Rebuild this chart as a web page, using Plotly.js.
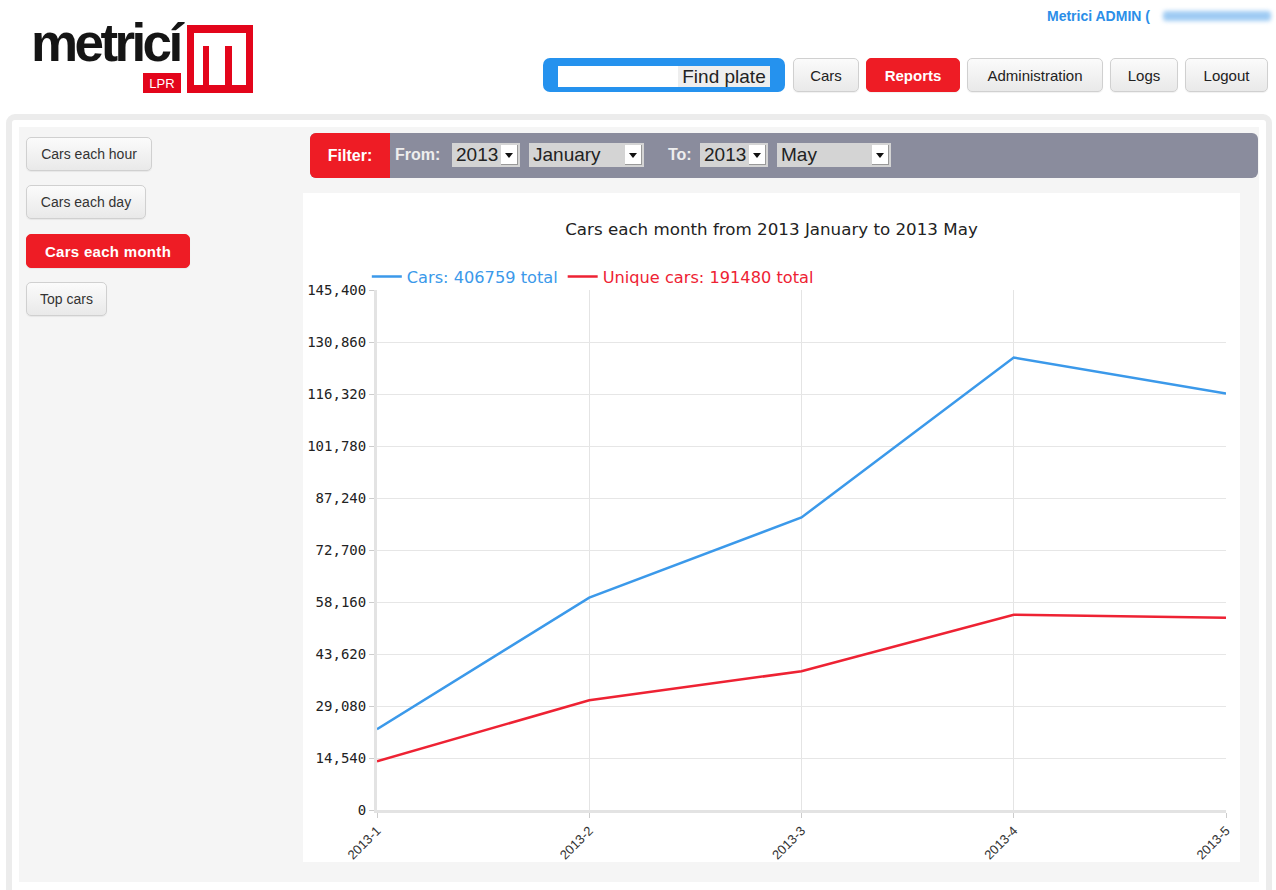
<!DOCTYPE html>
<html>
<head>
<meta charset="utf-8">
<script src="https://cdn.plot.ly/plotly-3.0.1.min.js"></script>
<style>
  html, body { margin:0; padding:0; background:#fff; width:1276px; height:890px; overflow:hidden; font-family:"Liberation Sans", Arial, sans-serif; }
  .abs { position:absolute; }
  .btn { position:absolute; box-sizing:border-box; border:1px solid #d0d0d0; border-radius:5px; background:linear-gradient(#fbfbfb,#e9e9e9); color:#222; font-size:15px; display:flex; align-items:center; justify-content:center; box-shadow:0 1px 1px rgba(0,0,0,0.06); }
  .btn.red { background:#ee1c25; border-color:#ee1c25; color:#fff; font-weight:bold; }
  .side { font-size:14px; color:#333; }
  .sel { position:absolute; background:#d4d4d4; color:#222; font-size:19px; height:24px; line-height:24px; box-sizing:border-box; padding-left:4px; }
  .arr { position:absolute; right:2px; top:2px; width:16px; height:19px; background:#fff; border-right:1px solid #999; border-bottom:1px solid #999; }
  .arr:after { content:""; position:absolute; left:4px; top:8px; border-left:4px solid transparent; border-right:4px solid transparent; border-top:5px solid #111; }
  .flab { position:absolute; color:#eee; font-weight:bold; font-size:16px; top:146px; }
</style>
</head>
<body>
<!-- header / logo -->
<div class="abs" style="left:31px;top:12px;font-size:53px;font-weight:bold;letter-spacing:-3.6px;color:#151515;font-family:'Liberation Sans',Arial,sans-serif;">metricí</div>
<div class="abs" style="left:143px;top:73px;width:38px;height:20px;background:#e3051b;color:#fff;font-size:13px;line-height:21px;text-align:center;">LPR</div>
<div class="abs" style="left:187px;top:25px;width:66px;height:68px;background:#e3051b;"></div>
<div class="abs" style="left:194px;top:33px;width:52px;height:52px;background:#fff;"></div>
<div class="abs" style="left:203px;top:46px;width:6px;height:39px;background:#e3051b;"></div>
<div class="abs" style="left:225px;top:46px;width:7px;height:39px;background:#e3051b;"></div>

<div class="abs" style="left:1047px;top:8px;color:#2b8ee8;font-weight:bold;font-size:14px;">Metrici ADMIN (</div>
<div class="abs" style="left:1163px;top:11px;width:108px;height:10px;background:#9fcbf3;filter:blur(2px);border-radius:3px;"></div>

<div class="abs" style="left:543px;top:58px;width:242px;height:34px;background:#2592ee;border-radius:7px;"></div>
<div class="abs" style="left:558px;top:66px;width:120px;height:21px;background:#fff;"></div>
<div class="abs" style="left:678px;top:66px;width:92px;height:21px;background:#eee;color:#222;font-size:19px;line-height:21px;text-align:center;">Find plate</div>

<div class="btn" style="left:793px;top:58px;width:66px;height:34px;">Cars</div>
<div class="btn red" style="left:866px;top:58px;width:94px;height:34px;">Reports</div>
<div class="btn" style="left:967px;top:58px;width:136px;height:34px;">Administration</div>
<div class="btn" style="left:1110px;top:58px;width:68px;height:34px;">Logs</div>
<div class="btn" style="left:1185px;top:58px;width:83px;height:34px;">Logout</div>

<!-- main container -->
<div class="abs" style="left:6px;top:114px;width:1266px;height:790px;border:6px solid #ececec;border-radius:9px;box-sizing:border-box;background:#fff;"></div>
<div class="abs" style="left:19px;top:127px;width:1240px;height:755px;background:#f5f5f5;"></div>

<!-- sidebar -->
<div class="btn side" style="left:26px;top:137px;width:126px;height:34px;">Cars each hour</div>
<div class="btn side" style="left:26px;top:185px;width:120px;height:34px;">Cars each day</div>
<div class="btn side red" style="left:26px;top:234px;width:164px;height:34px;font-size:15px;letter-spacing:0.3px;">Cars each month</div>
<div class="btn side" style="left:26px;top:282px;width:81px;height:34px;">Top cars</div>

<!-- filter bar -->
<div class="abs" style="left:310px;top:133px;width:948px;height:45px;background:#8a8c9d;border-radius:6px;"></div>
<div class="abs" style="left:310px;top:133px;width:80px;height:45px;background:#ee1c25;border-radius:6px 0 0 6px;color:#fff;font-weight:bold;font-size:16px;line-height:45px;text-align:center;">Filter:</div>
<div class="flab" style="left:395px;">From:</div>
<div class="sel" style="left:452px;top:143px;width:68px;">2013<div class="arr"></div></div>
<div class="sel" style="left:529px;top:143px;width:115px;">January<div class="arr"></div></div>
<div class="flab" style="left:668px;">To:</div>
<div class="sel" style="left:700px;top:143px;width:68px;">2013<div class="arr"></div></div>
<div class="sel" style="left:777px;top:143px;width:114px;">May<div class="arr"></div></div>

<!-- chart -->
<div class="abs" style="left:303px;top:193px;width:937px;height:669px;background:#fff;"></div>
<div id="chart" class="abs" style="left:303px;top:193px;width:937px;height:669px;"></div>

<script>
const months = ["2013-1", "2013-2", "2013-3", "2013-4", "2013-5"];
const cars = [22600, 59400, 81800, 126500, 116459];
const uniqueCars = [13600, 30700, 38800, 54600, 53780];
const yTickStep = 14540;
const yMax = 145400;
const chartTitle = "Cars each month from 2013 January to 2013 May";

const sum = a => a.reduce((s, v) => s + v, 0);
const blue = "#3b99ea", red = "#ee2233";

const traces = [
  { x: months, y: cars, type: "scatter", mode: "lines",
    name: '<span style="color:' + blue + '">Cars: ' + sum(cars) + ' total</span>',
    line: { color: blue, width: 2.5 } },
  { x: months, y: uniqueCars, type: "scatter", mode: "lines",
    name: '<span style="color:' + red + '">Unique cars: ' + sum(uniqueCars) + ' total</span>',
    line: { color: red, width: 2.5 } }
];

const layout = {
  width: 937, height: 669,
  margin: { l: 74, r: 14, t: 97, b: 52 },
  paper_bgcolor: "rgba(0,0,0,0)", plot_bgcolor: "#fff",
  title: { text: chartTitle, font: { family: "DejaVu Sans", size: 16.7, color: "#222" },
           x: 0.5, xanchor: "center", yref: "container", y: 1 - 36/669, yanchor: "middle" },
  showlegend: true,
  legend: { orientation: "h", x: -0.012, xanchor: "left", y: 1.025, yanchor: "middle",
            font: { family: "DejaVu Sans", size: 16.2 }, itemwidth: 30, bgcolor: "rgba(0,0,0,0)" },
  xaxis: { type: "category", range: [0, 4], showgrid: true, gridcolor: "#e4e4e4", gridwidth: 1,
           showline: true, linecolor: "#e3e3e3", linewidth: 3, ticks: "outside", ticklen: 5, tickcolor: "#ccc",
           tickangle: -45, tickfont: { family: "Liberation Sans", size: 13, color: "#333" }, zeroline: false },
  yaxis: { range: [0, yMax], tick0: 0, dtick: yTickStep, tickformat: ",d", showgrid: true, gridcolor: "#e6e6e6",
           showline: true, linecolor: "#e3e3e3", linewidth: 3, ticks: "outside", ticklen: 5, tickcolor: "#ccc",
           tickfont: { family: "DejaVu Sans Mono", size: 14, color: "#222" }, zeroline: false }
};

Plotly.newPlot("chart", traces, layout, { displayModeBar: false, staticPlot: true });
</script>
</body>
</html>
